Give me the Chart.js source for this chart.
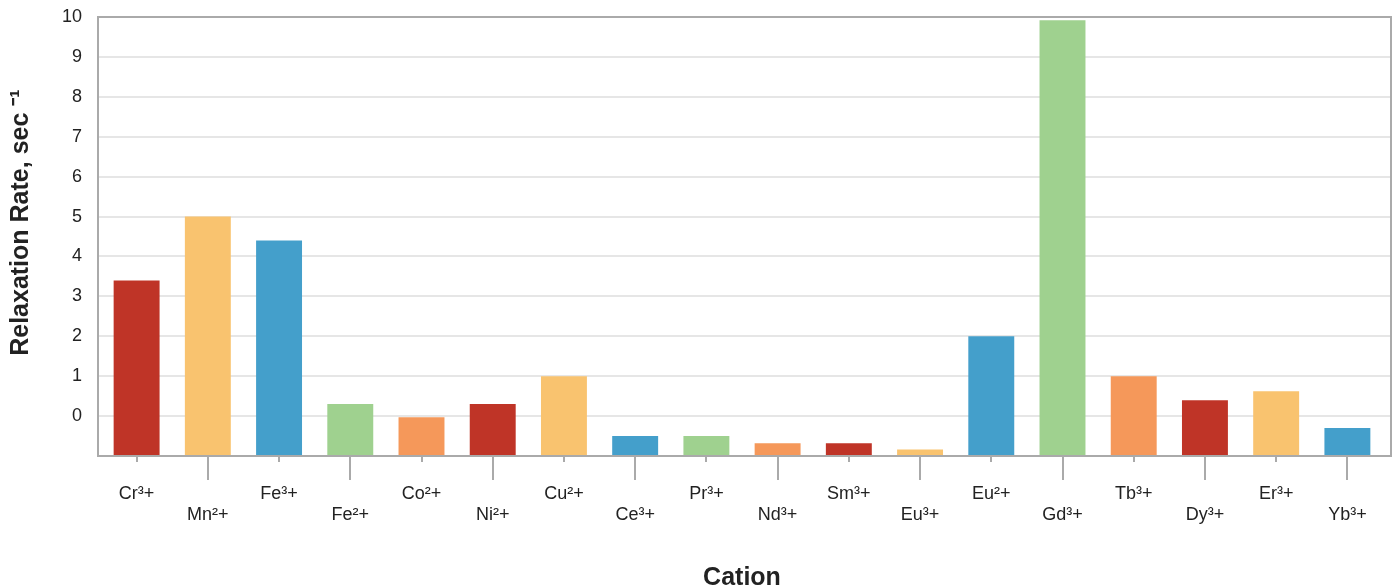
<!DOCTYPE html>
<html>
<head>
<meta charset="utf-8">
<script src="https://cdn.jsdelivr.net/npm/chart.js@4"></script>
<style>
  html, body { margin: 0; padding: 0; background: #fff; }
  #wrap { width: 1394px; height: 588px; }
</style>
</head>
<body>
<div id="wrap"><canvas id="relaxChart"></canvas></div>
<script>
// data
var cations = ['Cr³+', 'Mn²+', 'Fe³+', 'Fe²+', 'Co²+', 'Ni²+', 'Cu²+', 'Ce³+', 'Pr³+',
               'Nd³+', 'Sm³+', 'Eu³+', 'Eu²+', 'Gd³+', 'Tb³+', 'Dy³+', 'Er³+', 'Yb³+'];
var rates = [3.4, 5.0, 4.4, 0.3, -0.03, 0.3, 1.0, -0.5, -0.5,
             -0.68, -0.68, -0.84, 2.0, 9.92, 1.0, 0.4, 0.62, -0.3];
var yTicks = [0, 1, 2, 3, 4, 5, 6, 7, 8, 9, 10];

var palette = ['#bf3427', '#f9c36f', '#449fcb', '#9fd18f', '#f5985a'];
var barColors = cations.map(function(c, i) { return palette[i % palette.length]; });

// plot frame sits a little outside the bar area
var FRAME_L = 3, FRAME_R = 8;

// gridlines under the bars
var gridPlugin = {
    id: 'grid',
    beforeDatasetsDraw: function(chart) {
        var ctx = chart.ctx, a = chart.chartArea, ys = chart.scales.y;
        ctx.save();
        ctx.strokeStyle = '#e6e6e6';
        ctx.lineWidth = 2;
        yTicks.forEach(function(v) {
            if (v >= 10) return;
            var y = Math.round(ys.getPixelForValue(v));
            ctx.beginPath();
            ctx.moveTo(a.left - FRAME_L, y);
            ctx.lineTo(a.right + FRAME_R, y);
            ctx.stroke();
        });
        ctx.restore();
    }
};

// frame around plot area + staggered tick marks
var framePlugin = {
    id: 'frame',
    afterDatasetsDraw: function(chart) {
        var ctx = chart.ctx, a = chart.chartArea, xs = chart.scales.x;
        ctx.save();
        ctx.strokeStyle = '#aaaaaa';
        ctx.lineWidth = 2;
        ctx.strokeRect(a.left - FRAME_L, a.top, a.right - a.left + FRAME_L + FRAME_R, a.bottom - a.top);
        cations.forEach(function(c, i) {
            var x = Math.round(xs.getPixelForValue(i));
            ctx.beginPath();
            ctx.moveTo(x, a.bottom);
            ctx.lineTo(x, a.bottom + (i % 2 ? 24 : 6));
            ctx.stroke();
        });
        ctx.restore();
    }
};

Chart.defaults.font.family = '"Liberation Sans", Arial, sans-serif';
Chart.defaults.color = '#222';

new Chart(document.getElementById('relaxChart').getContext('2d'), {
    type: 'bar',
    data: {
        labels: cations,
        datasets: [{
            data: rates,
            base: -1,
            backgroundColor: barColors,
            categoryPercentage: 1.0,
            barPercentage: 0.645
        }]
    },
    options: {
        responsive: true,
        maintainAspectRatio: false,
        animation: false,
        layout: { padding: { top: 17, right: 11, left: 0, bottom: 0 } },
        plugins: { legend: { display: false }, tooltip: { enabled: false } },
        scales: {
            x: {
                grid: { display: false, drawTicks: false },
                border: { display: false },
                ticks: {
                    autoSkip: false,
                    maxRotation: 0,
                    padding: 27,
                    font: { size: 18 },
                    callback: function(v, i) { return i % 2 ? ['', cations[i]] : cations[i]; }
                },
                title: {
                    display: true,
                    text: 'Cation',
                    font: { size: 25, weight: 'bold' },
                    padding: { top: 0, bottom: -5 }
                },
                afterFit: function(s) { s.height = 132; s.paddingLeft = 0; s.paddingRight = 0; }
            },
            y: {
                min: -1,
                max: 10,
                afterBuildTicks: function(s) {
                    s.ticks = [-1].concat(yTicks).map(function(v) { return { value: v }; });
                },
                grid: { display: false, drawTicks: false },
                border: { display: false },
                ticks: {
                    padding: 19,
                    font: { size: 18 },
                    callback: function(v) { return v < 0 ? '' : v; }
                },
                title: {
                    display: true,
                    text: '\u00a0\u00a0\u00a0\u00a0Relaxation Rate, sec ⁻¹',
                    font: { size: 25, weight: 'bold' },
                    padding: { top: 6, bottom: 0 }
                },
                afterFit: function(s) { s.width = 101; s.paddingTop = 0; s.paddingBottom = 0; }
            }
        }
    },
    plugins: [gridPlugin, framePlugin]
});
</script>
</body>
</html>
